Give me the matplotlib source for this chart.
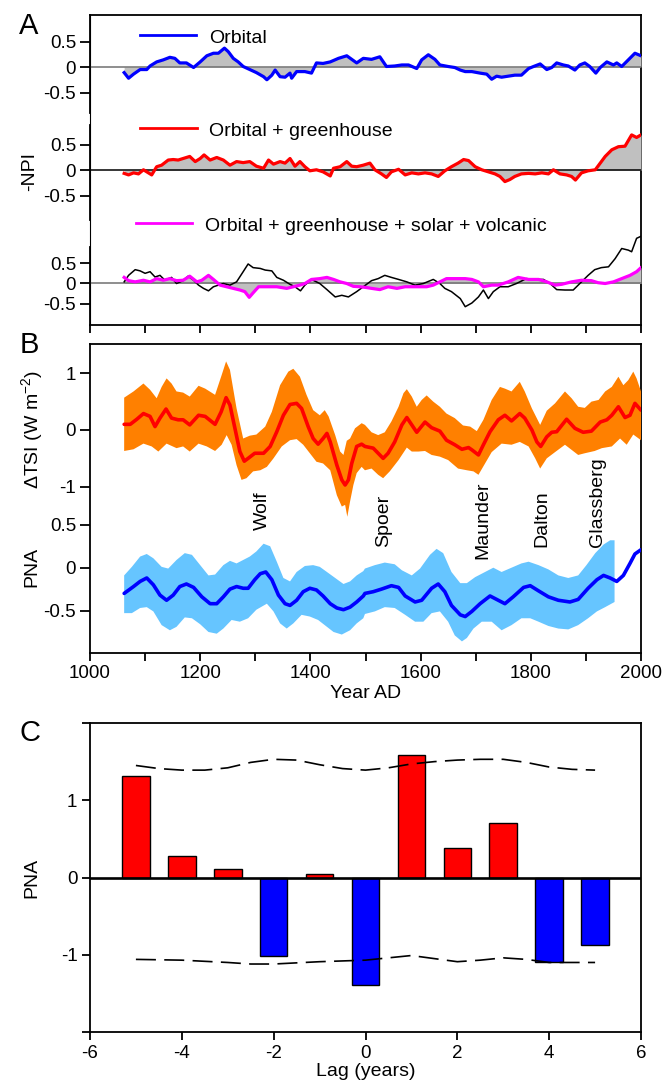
import matplotlib
matplotlib.use('Agg')
import matplotlib.pyplot as plt
from matplotlib.lines import Line2D
import numpy as np

plt.rcParams['font.family'] = ['Liberation Sans', 'DejaVu Sans']
plt.rcParams['axes.unicode_minus'] = False
plt.rcParams['mathtext.default'] = 'regular'

# ---------------- DATA ----------------
# Panel A: -NPI simulations
orb_years = [1062,1070,1079,1091,1103,1109,1121,1133,1145,1154,1163,1175,1188,1200,1212,1224,1233,1244,1251,1260,
             1269,1278,1290,1302,1315,1321,1330,1336,1345,1354,1363,1366,1375,1390,1402,1411,1423,1436,1451,1466,
             1475,1484,1496,
             1511,1526,1538,1553,1566,1578,1593,1602,1614,1626,1635,1650,1662,1672,1681,1693,1708,1720,1729,1738,
             1747,1759,1771,1783,1796,1805,1817,1829,1838,1847,1859,1868,1880,1889,1898,1907,1918,1926,1938,1950,
             1956,1965,1977,1989,2000]
orb_vals = [-0.11,-0.22,-0.14,-0.05,-0.05,0.02,0.10,0.14,0.19,0.17,0.08,0.08,-0.01,0.10,0.22,0.27,0.27,0.37,0.30,0.17,
            0.10,0.01,-0.05,-0.11,-0.19,-0.25,-0.16,-0.06,-0.19,-0.20,-0.12,-0.22,-0.09,-0.09,-0.12,0.08,0.07,0.10,0.17,0.22,
            0.15,0.08,0.17,
            0.15,0.20,0.01,0.02,0.04,0.04,-0.03,0.14,0.24,0.15,0.04,0.01,-0.01,-0.06,-0.09,-0.09,-0.12,-0.14,-0.24,-0.18,
            -0.20,-0.18,-0.16,-0.16,-0.03,0.01,0.06,-0.05,-0.01,0.08,0.04,0.02,-0.06,0.04,0.08,0.01,-0.12,-0.01,0.10,0.04,
            0.08,0.01,0.14,0.27,0.22]

ghg_years = [1062,1070,1079,1088,1097,1103,1112,1121,1130,1142,1151,1160,1169,1181,1191,1200,1207,1218,1230,1242,
             1254,1266,1278,1290,1302,1315,1324,1333,1345,1354,1363,1372,1381,1390,1399,1411,1423,1436,1442,1454,
             1466,1475,1484,1496,
             1508,1517,1529,1538,1547,1560,1572,1584,1596,1608,1620,1632,1644,1656,1668,1678,1687,1699,1711,1723,
             1735,1744,1753,1762,1771,1783,1796,1808,1820,1832,1841,1853,1865,1874,1881,1892,1904,1917,1926,1935,
             1947,1959,1971,1983,1992,2000]
ghg_vals = [-0.06,-0.09,-0.05,-0.07,0.01,-0.03,-0.09,0.07,0.10,0.20,0.21,0.20,0.23,0.27,0.17,0.23,0.30,0.20,0.25,0.20,
            0.10,0.17,0.15,0.17,0.08,0.04,0.20,0.12,0.17,0.14,0.23,0.08,0.17,0.07,-0.01,0.01,-0.03,-0.11,0.04,0.07,
            0.17,0.08,0.07,0.10,
            0.14,0.01,-0.07,-0.14,-0.03,0.02,-0.09,-0.05,-0.07,-0.05,-0.07,-0.12,-0.01,0.07,0.14,0.21,0.19,0.07,0.01,-0.03,
            -0.07,-0.12,-0.22,-0.18,-0.12,-0.07,-0.06,-0.07,-0.05,-0.07,0.01,-0.07,-0.09,-0.12,-0.19,-0.05,-0.01,0.01,0.14,0.27,
            0.40,0.46,0.47,0.69,0.64,0.69]

all_years = [1062,1070,1082,1097,1109,1121,1133,1145,1157,1169,1181,1194,1203,1215,1224,1236,1248,1260,1272,1281,
             1289,1296,1306,1321,1339,1357,1369,1381,1390,1402,1417,1430,1442,1454,1466,1478,1490,
             1502,1511,1526,1541,1557,1572,1584,1599,1611,1623,1635,1647,1662,1681,1693,1705,1714,1729,1741,1759,
             1777,1796,1814,1829,1844,1856,1874,1892,1910,1922,1935,1950,1965,1980,1992,2000]
all_vals = [0.15,0.07,0.04,0.08,0.04,0.12,0.08,0.12,0.07,0.08,0.18,0.04,0.08,0.20,0.10,-0.04,-0.08,-0.12,-0.16,-0.20,
            -0.34,-0.23,-0.08,-0.08,-0.08,-0.12,-0.08,-0.04,0.00,0.10,0.12,0.15,0.10,0.04,0.00,-0.07,-0.08,
            -0.10,-0.12,-0.15,-0.08,-0.12,-0.08,-0.08,-0.08,-0.08,-0.04,0.04,0.12,0.12,0.12,0.10,0.04,-0.08,-0.04,-0.04,0.04,
            0.15,0.10,0.10,0.04,-0.04,-0.02,0.04,0.08,0.07,0.02,0.00,0.04,0.12,0.20,0.29,0.39]

obs_years = [1062,1070,1082,1091,1100,1109,1118,1127,1136,1148,1157,1169,1178,1188,1197,1206,1215,1224,1233,1242,
             1254,1266,1278,1287,1296,1309,1318,1330,1339,1351,1363,1372,1382,1390,1402,1417,1430,1445,1457,1469,
             1484,1496,
             1511,1523,1535,1547,1560,1575,1590,1605,1623,1635,1644,1656,1672,1681,1693,1705,1714,1723,1732,1744,
             1759,1774,1792,1808,1823,1835,1847,1862,1877,1892,1904,1916,1928,1941,1953,1965,1977,1983,1992,2000]
obs_vals = [0.04,0.20,0.34,0.31,0.25,0.29,0.16,0.20,0.08,0.15,0.00,0.07,0.18,0.08,-0.04,-0.12,-0.18,-0.08,-0.04,0.00,
            -0.04,0.04,0.29,0.48,0.39,0.37,0.33,0.31,0.15,0.08,-0.02,-0.08,-0.18,-0.04,0.10,0.00,-0.15,-0.33,-0.29,-0.33,
            -0.20,-0.08,
            0.07,0.12,0.20,0.15,0.10,0.04,-0.04,0.00,0.10,0.00,-0.12,-0.20,-0.37,-0.57,-0.48,-0.33,-0.16,-0.37,-0.20,-0.08,
            -0.08,0.00,0.12,0.10,0.10,0.00,-0.15,-0.16,-0.16,0.04,0.20,0.34,0.39,0.41,0.61,0.86,0.82,0.78,1.11,1.16]

legend_labels = ['Orbital', 'Orbital + greenhouse', 'Orbital + greenhouse + solar + volcanic']

# Panel B: TSI reconstruction (mean, upper and lower bound)
tsi_years = [1062,1073,1085,1097,1109,1118,1127,1138,1148,1160,1169,1181,1197,1209,1227,1238,1247,1254,1263,1272,
             1280,1287,1299,1315,1327,1339,1351,1363,1375,1384,1396,1405,1414,1423,1430,1436,1448,1457,1463,1469,
             1475,1484,1493,
             1499,1514,1523,1532,1541,1553,1566,1575,1584,1593,1608,1620,1635,1647,1662,1675,1687,1693,1705,1714,
             1726,1741,1753,1765,1780,1789,1802,1811,1818,1829,1838,1847,1865,1880,1895,1910,1926,1938,1947,1959,
             1971,1980,1989,2000]
tsi_vals = [0.10,0.10,0.19,0.29,0.24,0.06,0.21,0.37,0.21,0.18,0.18,0.09,0.26,0.24,0.10,0.32,0.57,0.44,0.03,-0.38,
            -0.55,-0.50,-0.41,-0.41,-0.29,-0.03,0.26,0.45,0.47,0.38,0.06,-0.15,-0.25,-0.15,-0.06,-0.21,-0.62,-0.88,-0.97,-0.88,
            -0.59,-0.29,-0.25,
            -0.29,-0.32,-0.41,-0.50,-0.41,-0.21,0.09,0.22,0.09,-0.04,0.14,0.04,-0.02,-0.18,-0.26,-0.34,-0.31,-0.35,-0.44,-0.26,
            -0.03,0.18,0.26,0.16,0.29,0.21,0.00,-0.21,-0.29,-0.12,-0.04,-0.03,0.19,0.03,-0.04,-0.02,0.14,0.18,0.26,0.41,
            0.22,0.26,0.47,0.35]
tsi_up_years = [1062,1079,1097,1109,1121,1130,1139,1148,1157,1169,1181,1197,1209,1227,1239,1247,1254,1266,1278,1290,
                1302,1318,1330,1345,1360,1369,1381,1393,1405,1417,1426,1433,1445,1454,1460,1466,1472,1481,1493,
                1499,1511,1523,1535,1547,1560,1569,1575,1584,1593,1602,1611,1623,1635,1647,1662,1677,1690,1702,1714,
                1729,1744,1753,1765,1780,1789,1802,1817,1829,1844,1862,1874,1886,1898,1910,1923,1935,1947,1959,1968,
                1977,1986,1992,2000]
tsi_up_vals = [0.57,0.68,0.82,0.71,0.56,0.76,0.91,0.82,0.68,0.66,0.59,0.78,0.73,0.62,0.97,1.21,1.06,0.38,-0.15,-0.10,
               -0.08,0.06,0.32,0.79,1.03,1.08,0.94,0.62,0.35,0.26,0.35,0.24,-0.09,-0.38,-0.44,-0.19,-0.15,0.03,0.12,
               0.09,-0.04,-0.09,-0.04,0.15,0.41,0.65,0.72,0.59,0.41,0.53,0.61,0.50,0.41,0.29,0.21,0.08,0.06,-0.02,0.18,
               0.53,0.76,0.73,0.68,0.85,0.68,0.38,0.09,0.34,0.47,0.68,0.56,0.41,0.39,0.50,0.53,0.68,0.76,0.94,0.79,
               0.88,1.03,0.91,0.68]
tsi_lo_years = [1062,1079,1097,1112,1124,1139,1157,1169,1181,1197,1212,1227,1239,1248,1257,1266,1275,1284,1296,1309,
                1321,1333,1348,1363,1375,1387,1399,1411,1423,1436,1448,1457,1463,1467,1472,1478,1484,1493,
                1499,1511,1523,1532,1544,1560,1575,1584,1596,1608,1620,1635,1650,1668,1684,1696,1705,1717,1729,1747,
                1765,1780,1796,1808,1817,1829,1844,1862,1874,1886,1898,1916,1929,1947,1962,1974,1986,2000]
tsi_lo_vals = [-0.37,-0.34,-0.24,-0.29,-0.38,-0.24,-0.32,-0.29,-0.38,-0.24,-0.29,-0.37,-0.26,-0.09,-0.26,-0.62,-0.88,-0.85,-0.73,-0.71,
               -0.65,-0.50,-0.29,-0.18,-0.16,-0.26,-0.41,-0.56,-0.59,-0.71,-1.15,-1.35,-1.32,-1.53,-1.26,-0.97,-0.76,-0.65,
               -0.71,-0.68,-0.79,-0.85,-0.73,-0.53,-0.31,-0.38,-0.38,-0.37,-0.44,-0.47,-0.53,-0.68,-0.71,-0.73,-0.79,-0.59,-0.39,-0.24,
               -0.26,-0.21,-0.29,-0.50,-0.68,-0.50,-0.39,-0.26,-0.35,-0.44,-0.41,-0.37,-0.32,-0.29,-0.15,-0.26,-0.08,-0.18]

# Panel B: PNA reconstruction (mean, upper and lower bound)
pna_years = [1062,1079,1091,1103,1115,1127,1139,1151,1163,1175,1188,1203,1218,1230,1242,1254,1266,1278,1287,1299,
             1309,1319,1330,1342,1354,1363,1375,1387,1399,1411,1423,1436,1448,1460,1472,1484,1496,
             1499,1514,1529,1547,1560,1572,1590,1602,1620,1632,1644,1656,1672,1681,1693,1708,1726,1738,1753,1768,
             1787,1799,1814,1832,1850,1871,1886,1904,1920,1932,1944,1956,1968,1980,1989,2000]
pna_vals = [-0.30,-0.22,-0.16,-0.12,-0.20,-0.32,-0.38,-0.32,-0.22,-0.19,-0.23,-0.34,-0.42,-0.42,-0.34,-0.25,-0.22,-0.24,-0.24,-0.14,
            -0.07,-0.05,-0.14,-0.32,-0.42,-0.44,-0.38,-0.28,-0.24,-0.26,-0.33,-0.42,-0.47,-0.49,-0.46,-0.40,-0.33,
            -0.30,-0.28,-0.25,-0.21,-0.23,-0.33,-0.40,-0.38,-0.24,-0.19,-0.28,-0.44,-0.55,-0.57,-0.51,-0.42,-0.33,-0.37,-0.42,-0.34,
            -0.23,-0.21,-0.27,-0.34,-0.38,-0.40,-0.37,-0.24,-0.14,-0.09,-0.12,-0.16,-0.09,0.05,0.16,0.21]
pna_up_years = [1062,1076,1091,1103,1115,1130,1142,1157,1172,1185,1200,1215,1227,1242,1254,1266,1278,1290,1302,1315,
                1327,1339,1351,1363,1375,1390,1405,1417,1430,1445,1460,1472,1484,1496,
                1499,1517,1535,1553,1566,1584,1599,1617,1629,1641,1656,1672,1684,1699,1717,1732,1747,1765,1783,1796,
                1814,1832,1850,1868,1886,1901,1917,1932,1944,1952]
pna_up_vals = [-0.09,0.01,0.13,0.16,0.11,0.01,-0.01,0.09,0.17,0.15,0.03,-0.09,-0.08,0.03,0.08,0.05,0.09,0.13,0.19,0.28,
               0.25,0.07,-0.12,-0.16,-0.05,0.02,0.03,0.01,-0.05,-0.12,-0.19,-0.16,-0.09,-0.04,
               -0.01,0.03,0.06,0.04,-0.03,-0.09,-0.01,0.15,0.22,0.17,-0.05,-0.18,-0.18,-0.11,-0.05,0.00,-0.05,0.00,0.05,0.07,
               0.03,-0.02,-0.09,-0.12,-0.09,0.03,0.17,0.27,0.32,0.32]
pna_lo_years = [1062,1076,1091,1103,1115,1130,1145,1157,1172,1185,1200,1215,1230,1242,1257,1272,1287,1302,1321,1333,
                1345,1357,1369,1384,1399,1414,1426,1442,1457,1472,1484,1496,
                1499,1517,1535,1553,1572,1590,1605,1620,1635,1650,1662,1675,1684,1696,1711,1729,1747,1765,1783,1799,
                1814,1832,1850,1868,1886,1904,1920,1935,1952]
pna_lo_vals = [-0.53,-0.53,-0.47,-0.46,-0.51,-0.67,-0.73,-0.69,-0.58,-0.59,-0.66,-0.75,-0.77,-0.71,-0.61,-0.63,-0.59,-0.49,-0.42,-0.51,
               -0.65,-0.71,-0.65,-0.55,-0.57,-0.61,-0.67,-0.75,-0.78,-0.73,-0.65,-0.59,
               -0.54,-0.51,-0.46,-0.47,-0.55,-0.63,-0.63,-0.53,-0.51,-0.63,-0.79,-0.86,-0.82,-0.71,-0.63,-0.63,-0.73,-0.67,-0.59,-0.59,
               -0.63,-0.68,-0.71,-0.72,-0.67,-0.59,-0.51,-0.46,-0.40]

minima_labels = ['Wolf', 'Spoer', 'Maunder', 'Dalton', 'Glassberg']

# Panel C: superposed epoch PNA response
lags = [-5, -4, -3, -2, -1, 0, 1, 2, 3, 4, 5]
lag_pna = [1.32, 0.28, 0.11, -1.02, 0.04, -1.39, 1.59, 0.38, 0.71, -1.09, -0.88]
conf_x = [-5, -4.5, -4, -3.5, -3, -2.5, -2, -1.5, -1, -0.5, 0, 0.5, 1, 1.5, 2, 2.5, 3, 3.5, 4, 4.5, 5]
conf_up = [1.45, 1.41, 1.39, 1.39, 1.42, 1.49, 1.53, 1.52, 1.46, 1.41, 1.39, 1.42, 1.47, 1.50, 1.52, 1.53, 1.53, 1.49, 1.43, 1.40, 1.39]
conf_lo = [-1.06, -1.065, -1.07, -1.085, -1.10, -1.12, -1.12, -1.105, -1.09, -1.08, -1.07, -1.04, -1.01, -1.05, -1.09, -1.07,
           -1.04, -1.06, -1.10, -1.10, -1.10]

# ---------------- LAYOUT ----------------
W, H = 662, 1085
fig = plt.figure(figsize=(W / 100, H / 100), dpi=100)


def rect(x0, y0, x1, y1):
    return [x0 / W, 1 - y1 / H, (x1 - x0) / W, (y1 - y0) / H]


TICK_FS = 13.5
LAB_FS = 14
SPINE_LW = 1.3

# ---------- Panel A ----------
A_TOP, A_BOT = 15, 325
axA = fig.add_axes(rect(90, A_TOP, 641, A_BOT))
axA.set_xlim(1000, 2000)
axA.set_ylim(0, 1)
axA.set_yticks([])
axA.set_xticks(np.arange(1000, 2001, 100))
axA.tick_params(axis='x', direction='out', length=5.5, width=SPINE_LW, labelbottom=False)
for s in ['top', 'right', 'bottom']:
    axA.spines[s].set_linewidth(SPINE_LW)
axA.spines['left'].set_linewidth(0.8)


def sub_axes(zero_px, ppu, span_lo_px, span_hi_px):
    ax = fig.add_axes(rect(90, A_TOP, 641, A_BOT))
    ax.patch.set_visible(False)
    ax.set_xlim(1000, 2000)
    ax.set_ylim(-(A_BOT - zero_px) / ppu, (zero_px - A_TOP) / ppu)
    for s in ['top', 'right', 'bottom']:
        ax.spines[s].set_visible(False)
    ax.spines['left'].set_linewidth(SPINE_LW)
    ax.spines['left'].set_bounds(-(span_lo_px - zero_px) / ppu, (zero_px - span_hi_px) / ppu)
    ax.tick_params(axis='x', bottom=False, labelbottom=False)
    ax.set_yticks([-0.5, 0, 0.5])
    ax.set_yticklabels(['-0.5', '0', '0.5'])
    ax.tick_params(axis='y', direction='out', length=7, width=SPINE_LW, labelsize=TICK_FS, pad=3)
    return ax


GREY = '#c0c0c0'
ax1 = sub_axes(67, 51, 113, A_TOP)
ax1.fill_between(orb_years, orb_vals, 0, color=GREY, lw=0)
ax1.axhline(0, color='#707070', lw=1.1)
ax1.plot(orb_years, orb_vals, color='#0000ff', lw=2.3)

ax2 = sub_axes(170.3, 51.3, 220, 125)
ax2.fill_between(ghg_years, ghg_vals, 0, color=GREY, lw=0)
ax2.axhline(0, color='black', lw=1.1)
ax2.plot(ghg_years, ghg_vals, color='#ff0000', lw=2.3)

ax3 = sub_axes(283.5, 40.7, A_BOT, 246.7)
ax3.fill_between(all_years, all_vals, 0, color=GREY, lw=0)
ax3.axhline(0, color='#707070', lw=1.1)
ax3.plot(obs_years, obs_vals, color='black', lw=1.1)
ax3.plot(all_years, all_vals, color='#ff00ff', lw=2.3)

# legend entries (line x-range and y, text anchor) in pixels
leg = [((140, 196, 35), (209, 43.3), '#0000ff'),
       ((140, 196.5, 128.3), (209.3, 136), '#ff0000'),
       ((135.7, 191.7, 223.3), (205, 231), '#ff00ff')]
for ((lx0, lx1, ly), (tx, ty), col), lab in zip(leg, legend_labels):
    fig.add_artist(Line2D([lx0 / W, lx1 / W], [1 - ly / H, 1 - ly / H], color=col, lw=2.0))
    fig.text(tx / W, 1 - ty / H, lab, fontsize=LAB_FS, va='baseline', ha='left')

fig.text(29.5 / W, 1 - 171.7 / H, '-NPI', rotation=90, fontsize=LAB_FS, ha='center', va='center')
fig.text(29 / W, 1 - 26 / H, 'A', fontsize=21, ha='center', va='center')

# ---------- Panel B ----------
B_TOP, B_BOT = 344.3, 652.7
axB = fig.add_axes(rect(90, B_TOP, 641, B_BOT))
axB.set_xlim(1000, 2000)
axB.set_yticks([])
axB.set_xticks(np.arange(1000, 2001, 200))
axB.set_xticklabels([str(v) for v in range(1000, 2001, 200)])
axB.set_xticks(np.arange(1100, 2000, 200), minor=True)
axB.tick_params(axis='x', which='both', direction='out', length=5.5, width=SPINE_LW,
                labelsize=TICK_FS, pad=3.5)
for s in axB.spines.values():
    s.set_linewidth(SPINE_LW)
axB.set_xlabel('Year AD', fontsize=LAB_FS, labelpad=2)


def overlay(zero_px, ppu, ticks, labels):
    ax = fig.add_axes(rect(90, B_TOP, 641, B_BOT))
    ax.patch.set_visible(False)
    ax.set_xlim(1000, 2000)
    ax.set_ylim(-(B_BOT - zero_px) / ppu, (zero_px - B_TOP) / ppu)
    for s in ax.spines.values():
        s.set_visible(False)
    ax.tick_params(axis='x', bottom=False, labelbottom=False)
    ax.set_yticks(ticks)
    ax.set_yticklabels(labels)
    ax.tick_params(axis='y', direction='out', length=7, width=SPINE_LW, labelsize=TICK_FS, pad=3)
    return ax


axT = overlay(430, 56.7, [-1, 0, 1], ['-1', '0', '1'])
axT.fill(list(tsi_up_years) + list(tsi_lo_years[::-1]), list(tsi_up_vals) + list(tsi_lo_vals[::-1]),
         color='#ff8000', lw=0)
axT.plot(tsi_years, tsi_vals, color='#ff0000', lw=2.6, solid_capstyle='round', solid_joinstyle='round')

axP = overlay(567.7, 85.7, [-0.5, 0, 0.5], ['-0.5', '0', '0.5'])
axP.fill(list(pna_up_years) + list(pna_lo_years[::-1]), list(pna_up_vals) + list(pna_lo_vals[::-1]),
         color='#66c5ff', lw=0)
axP.plot(pna_years, pna_vals, color='#0000ff', lw=2.6, solid_capstyle='round', solid_joinstyle='round')

label_pos = [(262, 511), (383.5, 521), (483.3, 520), (541.5, 518.5), (597.3, 502)]
for (px, py), lab in zip(label_pos, minima_labels):
    fig.text(px / W, 1 - py / H, lab, rotation=90, fontsize=LAB_FS, ha='center', va='center')

fig.text(31.8 / W, 1 - 430 / H, 'ΔTSI (W m$^{-2}$)', rotation=90, fontsize=LAB_FS, ha='center', va='center')
fig.text(31.8 / W, 1 - 567 / H, 'PNA', rotation=90, fontsize=LAB_FS, ha='center', va='center')
fig.text(29.8 / W, 1 - 345 / H, 'B', fontsize=21, ha='center', va='center')

# ---------- Panel C ----------
axC = fig.add_axes(rect(90, 723, 641, 1032))
axC.set_xlim(-6, 6)
axC.set_ylim(-2, 2)
bar_cols = ['#ff0000' if v >= 0 else '#0000ff' for v in lag_pna]
axC.bar(lags, lag_pna, width=0.6, color=bar_cols, edgecolor='black', linewidth=1.0, zorder=2)
axC.axhline(0, color='black', lw=1.9, zorder=3)
axC.plot(conf_x, conf_up, color='black', lw=1.2, dashes=(12, 5), zorder=4)
axC.plot(conf_x, conf_lo, color='black', lw=1.2, dashes=(12, 5), zorder=4)
axC.set_xticks(np.arange(-6, 7, 2))
axC.set_xticklabels([str(v) for v in range(-6, 7, 2)])
axC.set_yticks([-2, -1, 0, 1, 2])
axC.set_yticklabels(['', '-1', '0', '1', ''])
axC.tick_params(axis='both', direction='out', length=5.5, width=SPINE_LW, labelsize=TICK_FS, pad=3.5)
for s in axC.spines.values():
    s.set_linewidth(SPINE_LW)
axC.set_xlabel('Lag (years)', fontsize=LAB_FS, labelpad=1)
fig.text(31.8 / W, 1 - 878 / H, 'PNA', rotation=90, fontsize=LAB_FS, ha='center', va='center')
fig.text(29.8 / W, 1 - 733 / H, 'C', fontsize=21, ha='center', va='center')

fig.savefig('out.png', dpi=100)
